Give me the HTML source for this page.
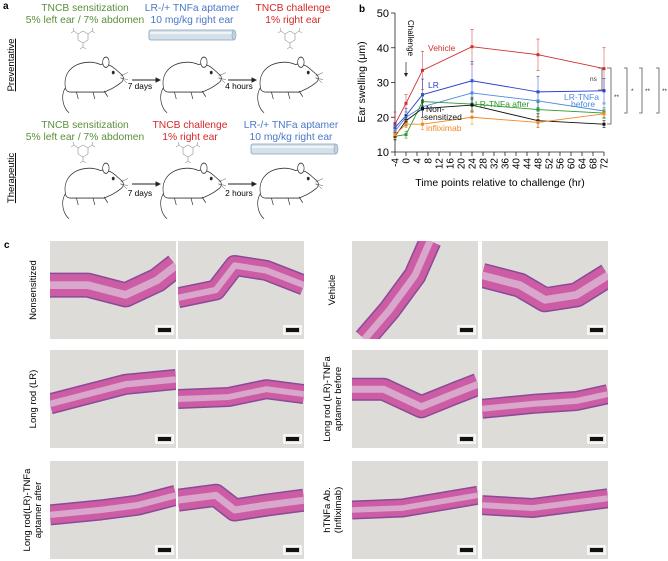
<!DOCTYPE html>
<html><head><meta charset="utf-8">
<style>
body{margin:0;background:#fff;width:668px;height:561px;overflow:hidden;font-family:"Liberation Sans",Arial,sans-serif;}
svg{position:absolute;left:0;top:0;}
text{font-family:"Liberation Sans",Arial,sans-serif;}
</style></head>
<body>
<svg id="fig" width="668" height="561" viewBox="0 0 668 561">
<g font-size="10.3" text-anchor="middle">
<text x="3" y="9" font-weight="bold" font-size="10" text-anchor="start">a</text>
<text x="85" y="11" fill="#5a8f3a">TNCB sensitization</text>
<text x="85" y="23" fill="#5a8f3a">5% left ear / 7% abdomen</text>
<text x="192" y="11" fill="#4a78c8">LR-/+ TNFa aptamer</text>
<text x="192" y="23" fill="#4a78c8">10 mg/kg right ear</text>
<text x="293" y="11" fill="#d62828">TNCB challenge</text>
<text x="293" y="23" fill="#d62828">1% right ear</text>
<text x="85" y="128" fill="#5a8f3a">TNCB sensitization</text>
<text x="85" y="140" fill="#5a8f3a">5% left ear / 7% abdomen</text>
<text x="190" y="128" fill="#d62828">TNCB challenge</text>
<text x="190" y="140" fill="#d62828">1% right ear</text>
<text x="291" y="128" fill="#4a78c8">LR-/+ TNFa aptamer</text>
<text x="291" y="140" fill="#4a78c8">10 mg/kg right ear</text>
<text transform="translate(14,65) rotate(-90)" font-size="9.5" text-decoration="underline">Preventative</text>
<text transform="translate(14,178) rotate(-90)" font-size="9.5" text-decoration="underline">Therapeutic</text>
<g><rect x="149" y="30" width="86" height="10" rx="2" fill="#d4e0ea" stroke="#8aa2b8" stroke-width="0.8"/><line x1="150" y1="33" x2="234" y2="33" stroke="#fff" stroke-width="1.2"/><ellipse cx="234" cy="35" rx="2" ry="5" fill="#c0d2e0" stroke="#8aa2b8" stroke-width="0.6"/></g>
<g><rect x="251" y="144" width="86" height="10" rx="2" fill="#d4e0ea" stroke="#8aa2b8" stroke-width="0.8"/><line x1="252" y1="147" x2="336" y2="147" stroke="#fff" stroke-width="1.2"/><ellipse cx="336" cy="149" rx="2" ry="5" fill="#c0d2e0" stroke="#8aa2b8" stroke-width="0.6"/></g>
<g id="mice"></g>
<g stroke="#222" stroke-width="0.9">
<line x1="132" y1="80" x2="156" y2="80"/><polygon points="156,78 160,80 156,82" fill="#222"/>
<line x1="228" y1="80" x2="252" y2="80"/><polygon points="252,78 256,80 252,82" fill="#222"/>
<line x1="132" y1="184" x2="156" y2="184"/><polygon points="156,182 160,184 156,186" fill="#222"/>
<line x1="228" y1="184" x2="252" y2="184"/><polygon points="252,182 256,184 252,186" fill="#222"/>
</g>
<text x="140" y="89" font-size="8.3">7 days</text>
<text x="239" y="89" font-size="8.3">4 hours</text>
<text x="140" y="196" font-size="8.3">7 days</text>
<text x="239" y="196" font-size="8.3">2 hours</text>
</g>
<g id="chart"></g>
<g id="histo">
<text x="4" y="248" font-weight="bold" font-size="10">c</text>
</g>
</svg>
<script>
var NS='http://www.w3.org/2000/svg';
function mk(tag,attrs,parent){var e=document.createElementNS(NS,tag);for(var k in attrs)e.setAttribute(k,attrs[k]);parent.appendChild(e);return e;}

var timePoints=[-4,0,6,24,48,72];
var seriesNames=['Vehicle','LR','LR-TNFa before','LR-TNFa after','Non-sensitized','Infliximab'];
var seriesColors=['#d03030','#2a3fd0','#4a8ae0','#2a9a2a','#111111','#f08a20'];
var vehicleValues=[18,24,33.5,40.3,38,34];
var lrValues=[17,20.5,26.5,30.5,27.3,27.6];
var lrBeforeValues=[16,20,23,27,24.7,21.8];
var lrAfterValues=[14.5,15,24.5,23.8,22.2,21.2];
var nonsensValues=[14.5,19,22.5,23.5,19,18];
var inflixValues=[15,18,18,20,18.5,21];
var vehicleErr=[3.5,2.5,5.5,5,4.5,6];
var lrErr=[1.5,2,4.5,5.5,4.5,3.5];
var lrBeforeErr=[1.5,1.5,3,3.5,3,2];
var lrAfterErr=[1,1,2,2,2,1.5];
var nonsensErr=[1,1.5,2.5,2,2,1];
var inflixErr=[1,1,1.5,2,1.5,1];
var yTicks=[10,20,30,40,50];
var xTicks=[-4,0,4,8,12,16,20,24,28,32,36,40,44,48,52,56,60,64,68,72];

var allValues=[vehicleValues,lrValues,lrBeforeValues,lrAfterValues,nonsensValues,inflixValues];
var allErr=[vehicleErr,lrErr,lrBeforeErr,lrAfterErr,nonsensErr,inflixErr];

function xs(t){return 406+(t)*(604-406)/72;}
function ys(v){return 152-(v-10)*(152-13)/40;}

var ch=document.getElementById('chart');
var lab=mk('text',{x:359,y:12,'font-weight':'bold','font-size':10},ch);lab.textContent='b';


var ya=mk('line',{x1:395,y1:13,x2:395,y2:152,stroke:'#222','stroke-width':0.8},ch);


yTicks.forEach(function(v){
  mk('line',{x1:391,y1:ys(v),x2:395,y2:ys(v),stroke:'#222','stroke-width':0.8},ch);
  var t=mk('text',{x:389,y:ys(v)+4,'font-size':11,'text-anchor':'end'},ch);t.textContent=v;
  
  
});
var yt=mk('text',{transform:'translate(365,82) rotate(-90)','font-size':10.5,'text-anchor':'middle'},ch);yt.textContent='Ear swelling (μm)';


var xa=mk('line',{x1:395,y1:152,x2:604,y2:152,stroke:'#222','stroke-width':0.8},ch);


xTicks.forEach(function(v){
  mk('line',{x1:xs(v),y1:152,x2:xs(v),y2:156,stroke:'#222','stroke-width':0.8},ch);
  var t=mk('text',{transform:'translate('+(xs(v)+3.5)+',158) rotate(-90)','font-size':10,'text-anchor':'end'},ch);t.textContent=v;
  
  
});
var xt=mk('text',{x:500,y:186,'font-size':10.5,'text-anchor':'middle'},ch);xt.textContent='Time points relative to challenge (hr)';


var cl=mk('text',{transform:'translate(408,20) rotate(90)','font-size':8},ch);cl.textContent='Challenge';


mk('line',{x1:406,y1:62,x2:406,y2:74,stroke:'#222','stroke-width':0.7},ch);
mk('polygon',{points:'404,73 406,77 408,73',fill:'#222'},ch);
allValues.forEach(function(vals,i){
  var g=mk('g',{},ch);
  
  
  var pts=vals.map(function(v,j){return xs(timePoints[j])+','+ys(v);}).join(' ');
  mk('polyline',{points:pts,fill:'none',stroke:seriesColors[i],'stroke-width':0.9},g);
  vals.forEach(function(v,j){
    var x=xs(timePoints[j]),e=allErr[i][j];
    mk('line',{x1:x,y1:ys(v+e),x2:x,y2:ys(v-e),stroke:seriesColors[i],'stroke-width':0.6,opacity:0.8},g);
    mk('line',{x1:x-1.5,y1:ys(v+e),x2:x+1.5,y2:ys(v+e),stroke:seriesColors[i],'stroke-width':0.6},g);
    mk('line',{x1:x-1.5,y1:ys(v-e),x2:x+1.5,y2:ys(v-e),stroke:seriesColors[i],'stroke-width':0.6},g);
    var r=mk('rect',{x:x-1.5,y:ys(v)-1.5,width:3,height:3,fill:seriesColors[i]},g);
    
    
  });
});
function lbl(txt,x,y,c,name){var t=mk('text',{x:x,y:y,'font-size':8.5,fill:c},ch);t.textContent=txt;
  
  }
lbl('Vehicle',428,51,'#d03030','label-vehicle');
lbl('LR',428,88,'#2a3fd0','label-lr');
lbl('Non-',426,112,'#111','label-nonsensitized-1');
lbl('sensitized',424,120,'#111','label-nonsensitized-2');
lbl('infliximab',426,131,'#f08a20','label-infliximab');
lbl('LR-TNFa after',475,107,'#2a9a2a','label-lr-tnfa-after');
lbl('LR-TNFa',564,100,'#4a8ae0','label-lr-tnfa-before-1');
lbl('before',571,107,'#4a8ae0','label-lr-tnfa-before-2');
var br=mk('g',{stroke:'#555','stroke-width':0.8,fill:'none'},ch);


mk('polyline',{points:'598,68 602,68 602,90 598,90'},br);
mk('polyline',{points:'607,68 611,68 611,124 607,124'},br);
mk('polyline',{points:'624,68 627,68 627,113 624,113'},br);
mk('polyline',{points:'639,68 642,68 642,113 639,113'},br);
mk('polyline',{points:'656,68 659,68 659,113 656,113'},br);
[['ns',590,81],['**',614,99],['*',631,93],['**',645,93],['**',662,93]].forEach(function(s){
  var t=mk('text',{x:s[1],y:s[2],'font-size':6.5,fill:'#333'},ch);t.textContent=s[0];
  
  
});

var mice=document.getElementById('mice');
function structure(cx,cy){
  var s=mk('g',{transform:'translate('+cx+','+cy+')','stroke-width':0.5,stroke:'#777',fill:'none'},mice);
  
  
  mk('polygon',{points:'-5,-3 0,-6 5,-3 5,3 0,6 -5,3'},s);
  mk('path',{d:'M-5,-3 L-9,-6 M5,-3 L9,-6 M0,6 L0,10 M-9,-6 L-12,-4 M-9,-6 L-10,-9 M9,-6 L12,-4 M9,-6 L10,-9 M0,10 L-3,12 M0,10 L3,12'},s);
}
function mouse(cx,cy){
  var g=mk('g',{transform:'translate('+cx+','+cy+') scale(0.92,1.15)',fill:'#fff',stroke:'#333','stroke-width':0.75},mice);
  
  
  mk('path',{d:'M-30,10 C-36,18 -32,28 -26,32',fill:'none'},g);
  mk('path',{d:'M-30,10 C-34,-8 -10,-16 8,-10 C18,-12 24,-6 30,-2 C34,0 34,4 30,6 C24,10 18,12 12,14 L-24,14 C-28,14 -30,12 -30,10 Z'},g);
  mk('ellipse',{cx:14,cy:-12,rx:3.5,ry:4.5},g);
  mk('circle',{cx:22,cy:-3,r:1.2,fill:'#222'},g);
  mk('path',{d:'M30,0 L38,-3 M30,2 L38,3 M30,1 L37,6',fill:'none','stroke-width':0.4},g);
  mk('path',{d:'M-18,14 L-16,20 M0,14 L2,20 M12,13 L16,18',fill:'none'},g);
}
mouse(93,76);mouse(191,76);mouse(288,76);
mouse(93,182);mouse(191,182);mouse(288,182);
structure(83,37);structure(290,37);
structure(83,151);structure(188,151);

var histo=document.getElementById('histo');
var rows=[241,350,461];
var panels=[
 {c:0,r:0,name:'nonsensitized-1',pts:[[0,0.45],[0.3,0.45],[0.6,0.55],[0.85,0.4],[1,0.25]],w:22},
 {c:1,r:0,name:'nonsensitized-2',pts:[[0,0.58],[0.3,0.5],[0.45,0.25],[0.7,0.3],[1,0.45]],w:18},
 {c:0,r:1,name:'long-rod-1',pts:[[0,0.55],[0.3,0.45],[0.6,0.35],[1,0.3]],w:18},
 {c:1,r:1,name:'long-rod-2',pts:[[0,0.5],[0.4,0.48],[0.7,0.4],[1,0.45]],w:17},
 {c:0,r:2,name:'lr-tnfa-after-1',pts:[[0,0.55],[0.4,0.5],[0.7,0.45],[1,0.35]],w:18},
 {c:1,r:2,name:'lr-tnfa-after-2',pts:[[0,0.4],[0.3,0.35],[0.45,0.5],[0.7,0.45],[1,0.4]],w:20},
 {c:2,r:0,name:'vehicle-1',pts:[[0.1,1],[0.3,0.7],[0.5,0.35],[0.62,0]],w:20},
 {c:3,r:0,name:'vehicle-2',pts:[[0,0.35],[0.3,0.45],[0.5,0.6],[0.75,0.55],[1,0.35]],w:22},
 {c:2,r:1,name:'lr-tnfa-before-1',pts:[[0,0.4],[0.25,0.4],[0.55,0.58],[0.8,0.45],[1,0.35]],w:20},
 {c:3,r:1,name:'lr-tnfa-before-2',pts:[[0,0.6],[0.4,0.55],[0.75,0.52],[1,0.45]],w:17},
 {c:2,r:2,name:'infliximab-1',pts:[[0,0.5],[0.4,0.48],[1,0.35]],w:16},
 {c:3,r:2,name:'infliximab-2',pts:[[0,0.45],[0.4,0.48],[1,0.38]],w:17}
];
var colX=[50,178,352,482],W=126,H=98;
panels.forEach(function(p){
  var x0=colX[p.c],y0=rows[p.r];
  var g=mk('g',{},histo);
  
  
  var cp='cp'+p.name;
  var cl=mk('clipPath',{id:cp},g);mk('rect',{x:x0,y:y0,width:W,height:H},cl);
  var gg=mk('g',{'clip-path':'url(#'+cp+')'},g);
  mk('rect',{x:x0,y:y0,width:W,height:H,fill:'#dddcd9'},gg);
  var pts=p.pts.map(function(q){return (x0+q[0]*W)+','+(y0+q[1]*H);}).join(' ');
  mk('polyline',{points:pts,fill:'none',stroke:'#8a4a98','stroke-width':p.w+3,'stroke-linejoin':'round'},gg);
  mk('polyline',{points:pts,fill:'none',stroke:'#cc5ca4','stroke-width':p.w,'stroke-linejoin':'round'},gg);
  mk('polyline',{points:pts,fill:'none',stroke:'#d9a6cc','stroke-width':p.w*0.35,'stroke-linejoin':'round'},gg);
  mk('rect',{x:x0+W-18,y:y0+H-11,width:13,height:4,fill:'#111'},gg);
  mk('rect',{x:x0+W-20,y:y0+H-13,width:17,height:8,fill:'none',stroke:'#fff','stroke-width':1.5},gg);
});
var sideLabels=[
 [36,290,['Nonsensitized']],
 [36,399,['Long rod (LR)']],
 [30,510,['Long rod(LR)-TNFa','aptamer after']],
 [335,290,['Vehicle']],
 [330,399,['Long rod (LR)-TNFa','aptamer before']],
 [330,510,['hTNFa Ab.','(Infliximab)']]
];
sideLabels.forEach(function(s){
  var t=mk('text',{transform:'translate('+s[0]+','+s[1]+') rotate(-90)','font-size':9.5,'text-anchor':'middle'},histo);
  
  
  s[2].forEach(function(line,k){var ts=mk('tspan',{x:0,dy:k?11:0},t);ts.textContent=line;});
});
</script>
</body></html>
